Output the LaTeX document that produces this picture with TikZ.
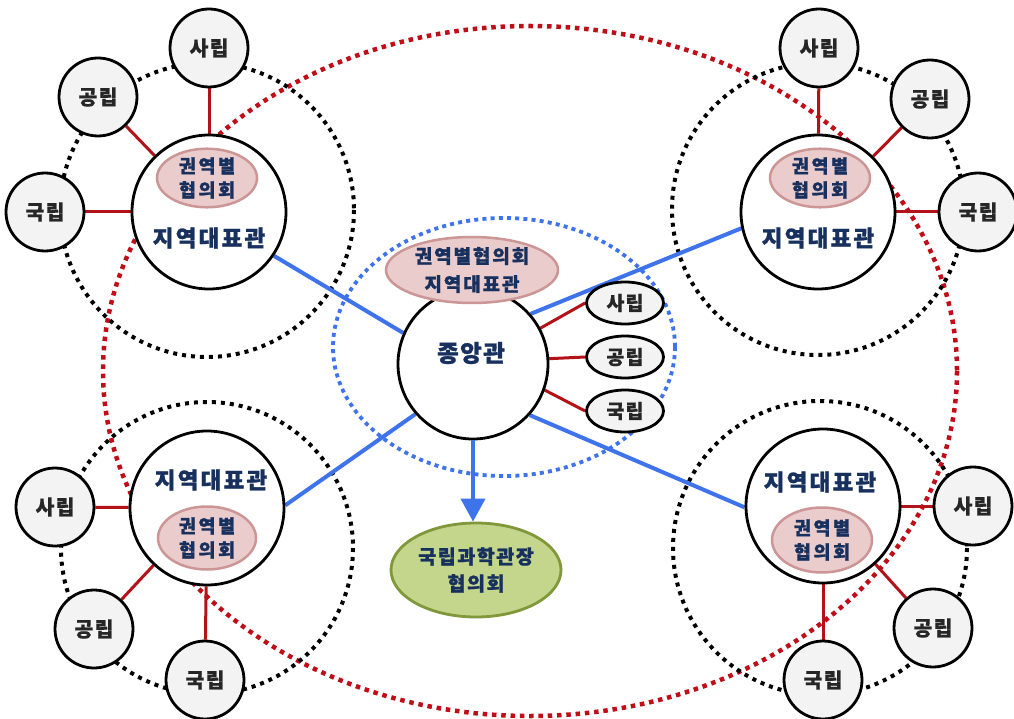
\documentclass[tikz,border=0pt]{standalone}
\usepackage{fontspec}
\setmainfont{Noto Sans CJK KR}
\usetikzlibrary{shapes.geometric,arrows.meta}
\definecolor{navy}{RGB}{23,48,94}
\definecolor{dred}{RGB}{178,18,24}
\definecolor{rdot}{RGB}{192,14,24}
\definecolor{bline}{RGB}{62,115,235}
\definecolor{pinkf}{RGB}{234,204,204}
\definecolor{pinkd}{RGB}{204,150,150}
\definecolor{greenf}{RGB}{196,214,140}
\definecolor{greend}{RGB}{128,152,58}
\definecolor{smallf}{RGB}{243,243,243}
\pgfdeclarelayer{bg}
\pgfsetlayers{bg,main}
\begin{document}
\begin{tikzpicture}[x=1pt,y=-1pt,
  maincirc/.style={circle, draw=black, line width=2.8pt, fill=white, minimum size=154pt, inner sep=0pt},
  smallcirc/.style={circle, draw=black, line width=2.8pt, fill=smallf, minimum size=78pt, inner sep=0pt,
    font=\bfseries\fontsize{20.5}{22}\selectfont\addfontfeature{LetterSpace=6,FakeBold=0.6}, text=black!85},
  smallell/.style={ellipse, draw=black, line width=2.8pt, fill=smallf, minimum width=77pt, minimum height=42pt, inner sep=0pt,
    font=\bfseries\fontsize{19.5}{22}\selectfont\addfontfeature{LetterSpace=6,FakeBold=0.6}, text=black!85},
  pinkell/.style={ellipse, draw=pinkd, line width=2.5pt, fill=pinkf, inner sep=0pt, align=center, text=navy,
    font=\bfseries\fontsize{18.5}{24}\selectfont\addfontfeature{LetterSpace=14,FakeBold=1}},
  bigtext/.style={text=navy, inner sep=0pt, font=\bfseries\fontsize{22.5}{24}\selectfont\addfontfeature{LetterSpace=10,FakeBold=1.2}},
  greenell/.style={ellipse, draw=greend, line width=2.8pt, fill=greenf, inner sep=0pt, align=center, text=navy,
    minimum width=170pt, minimum height=94pt, font=\bfseries\fontsize{19.5}{27}\selectfont\addfontfeature{LetterSpace=8,FakeBold=1}},
  reddots/.style={draw=rdot, line width=4.5pt, dash pattern=on 4.5pt off 4.8pt},
  blackdots/.style={draw=black, line width=4pt, dash pattern=on 4pt off 5pt},
  bluedots/.style={draw=bline, line width=3.8pt, dash pattern=on 4pt off 4.2pt},
  bluel/.style={draw=bline, line width=4pt},
  redl/.style={draw=dred, line width=3pt}
]
\useasboundingbox (0,0) rectangle (1014,719);

% central hub
\node[maincirc, minimum size=150pt] (cm) at (473,364) {};
\node[bigtext, font=\bfseries\fontsize{23.5}{24}\selectfont\addfontfeature{LetterSpace=6,FakeBold=1.2}] (ct) at (471,353) {종앙관};
\node[pinkell, minimum width=172pt, minimum height=66pt, font=\bfseries\fontsize{19}{28}\selectfont\addfontfeature{LetterSpace=10,FakeBold=1}] (cp) at (472,270) {권역별협의회\\지역대표관};
\node[smallell] (cs) at (625,303) {사립};
\node[smallell] (cg) at (625,357) {공립};
\node[smallell] (ck) at (625,411) {국립};

% green council
\node[greenell] (gr) at (476,570) {국립과학관장\\협의회};

% top-left cluster
\node[maincirc] (tlm) at (209,212) {};
\node[bigtext] (tlt) at (209,238) {지역대표관};
\node[pinkell, minimum width=100pt, minimum height=57pt] (tlp) at (207,178) {권역별\\협의회};
\node[smallcirc] (tls) at (209,48) {사립};
\node[smallcirc] (tlg) at (98,97) {공립};
\node[smallcirc] (tlk) at (45,212) {국립};

% top-right cluster
\node[maincirc] (trm) at (818,212) {};
\node[bigtext] (trt) at (818,238) {지역대표관};
\node[pinkell, minimum width=100pt, minimum height=55pt] (trp) at (820,178) {권역별\\협의회};
\node[smallcirc] (trs) at (819,48) {사립};
\node[smallcirc] (trg) at (930,99) {공립};
\node[smallcirc] (trk) at (978,212) {국립};

% bottom-left cluster
\node[maincirc] (blm) at (207,508) {};
\node[bigtext] (blt) at (211,480) {지역대표관};
\node[pinkell, minimum width=98pt, minimum height=63pt] (blp) at (207,538) {권역별\\협의회};
\node[smallcirc] (bls) at (55,507) {사립};
\node[smallcirc] (blg) at (94,629) {공립};
\node[smallcirc] (blk) at (205,680) {국립};

% bottom-right cluster
\node[maincirc] (brm) at (823,506) {};
\node[bigtext] (brt) at (820,482) {지역대표관};
\node[pinkell, minimum width=100pt, minimum height=65pt] (brp) at (822,540) {권역별\\협의회};
\node[smallcirc] (brs) at (973,506) {사립};
\node[smallcirc] (brg) at (933,628) {공립};
\node[smallcirc] (brk) at (823,680) {국립};

\begin{pgfonlayer}{bg}
  \draw[reddots] (530,371) ellipse [x radius=427, y radius=345];
  \draw[blackdots] (207,210) circle [radius=147];
  \draw[blackdots] (818,209) circle [radius=146];
  \draw[blackdots] (207,548) circle [radius=146];
  \draw[blackdots] (820,548) circle [radius=147];
  \draw[bluedots] (504,347) ellipse [x radius=171, y radius=129];
  % blue links
  \draw[bluel] (tlm.-34) -- (cm.156);
  \draw[bluel] (trm.192) -- (cm.41);
  \draw[bluel] (blm.2) -- (cm.221);
  \draw[bluel] (brm.181) -- (cm.-42);
  % red links
  \draw[redl] (tls) -- (tlm);
  \draw[redl] (tlg) -- (tlm);
  \draw[redl] (tlk) -- (tlm);
  \draw[redl] (trs) -- (trm);
  \draw[redl] (trg) -- (trm);
  \draw[redl] (trk) -- (trm);
  \draw[redl] (bls) -- (blm);
  \draw[redl] (blg) -- (blm);
  \draw[redl] (blk) -- (blm);
  \draw[redl] (brs) -- (brm);
  \draw[redl] (brg) -- (brm);
  \draw[redl] (brk) -- (brm);
  \draw[redl] (cm.28) -- (cs.west);
  \draw[redl] (cm.4) -- (cg.west);
  \draw[redl] (cm.-20) -- (ck.west);
\end{pgfonlayer}

\draw[bluel, -{Triangle[width=24pt,length=23pt]}] (cm.south) -- (cm.south |- gr.north);
\end{tikzpicture}
\end{document}
